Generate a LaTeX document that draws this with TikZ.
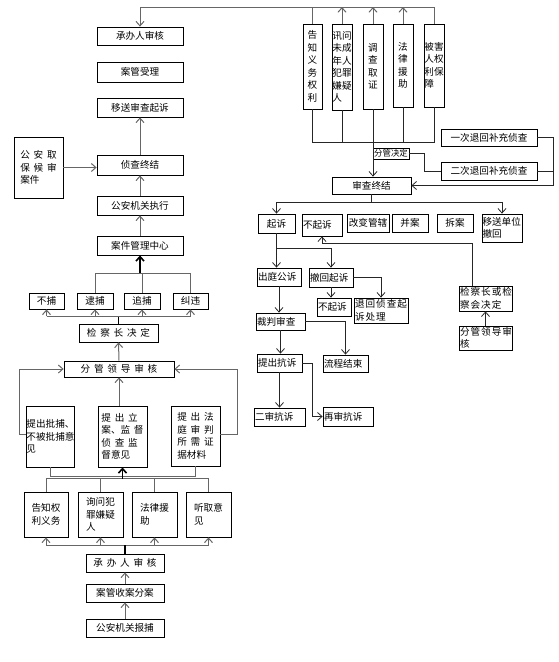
\documentclass[tikz,border=0pt]{standalone}
\usepackage{fontspec}
\setmainfont{Noto Sans CJK SC}
\usetikzlibrary{arrows.meta}
\newcommand{\ks}{\kern3.8pt}
\newcommand{\kt}{\kern1pt}
\tikzset{
  box/.style={draw, line width=0.8pt, inner sep=1pt, align=center, font=\fontsize{9.6}{12.5}\selectfont},
  lbox/.style={box, align=left},
  link/.style={draw=black!60, line width=1pt},
  dlink/.style={draw=black!85, line width=0.8pt},
  trunk/.style={draw=black, line width=1.6pt},
}
\begin{document}
\begin{tikzpicture}[x=1pt, y=-1pt, >={Straight Barb[length=4.5pt,width=8pt]}]
\useasboundingbox (0,0) rectangle (558,662);

\node [box, minimum width=86pt, minimum height=18pt] (cbsh) at (140,36) {承办人审核};
\node [box, minimum width=86pt, minimum height=20pt] (agsl) at (140,72) {案管受理};
\node [box, minimum width=86pt, minimum height=19pt] (ysqs) at (140,107.5) {移送审查起诉};
\node [lbox, minimum width=49pt, minimum height=61pt] (qbhs) at (38.5,167.5) {公\ks 安\ks 取\\保\ks 候\ks 审\\案件};
\node [box, minimum width=86pt, minimum height=20pt] (zczj) at (140,165) {侦查终结};
\node [box, minimum width=86pt, minimum height=19pt] (gazx) at (140,205.5) {公安机关执行};
\node [box, minimum width=86pt, minimum height=19pt] (ajgl) at (140,245.5) {案件管理中心};
\node [box, minimum width=35pt, minimum height=16pt] (bb) at (46.5,301) {不捕};
\node [box, minimum width=36pt, minimum height=16pt] (db) at (95,301) {逮捕};
\node [box, minimum width=36pt, minimum height=16pt] (zb) at (142,301) {追捕};
\node [box, minimum width=35pt, minimum height=16pt] (jw) at (190.5,301) {纠违};
\node [box, minimum width=79pt, minimum height=18pt] (jczjd) at (118.5,333) {检\ks 察\ks 长\ks 决\ks 定};
\node [box, minimum width=110pt, minimum height=16pt] (fgsh) at (119,369) {分\ks 管\ks 领\ks 导\ks 审\ks 核};
\node [lbox, text width=47pt, inner sep=0.5pt, minimum height=61pt] (tcpb) at (50,436.5) {提出批捕、\\不被批捕意\\见};
\node [lbox, minimum width=49pt, minimum height=61pt] (tcla) at (122.5,436.5) {提\ks 出\ks 立\\案、监\ks 督\\侦\ks 查\ks 监\\督意见};
\node [lbox, minimum width=49pt, minimum height=60pt] (tcft) at (195.5,436) {提\ks 出\ks 法\\庭\ks 审\ks 判\\所\ks 需\ks 证\\据材料};
\node [box, minimum width=44pt, minimum height=45pt] (gzqy) at (46,514.5) {告知权\\利义务};
\node [lbox, minimum width=45pt, minimum height=45pt] (xwfz) at (100.5,514.5) {询问犯\\罪嫌疑\\人};
\node [lbox, minimum width=45pt, minimum height=45pt] (flyz) at (154.5,514.5) {法律援\\助};
\node [lbox, minimum width=45pt, minimum height=45pt] (tqyj) at (208.5,514.5) {听取意\\见};
\node [box, minimum width=78pt, minimum height=18pt] (cbsh2) at (125,563) {承\ks 办\ks 人\ks 审\ks 核};
\node [box, minimum width=78pt, minimum height=18pt] (agsa) at (125,593) {案管收案分案};
\node [box, minimum width=78pt, minimum height=18pt] (gabb) at (125,628) {公安机关报捕};

\node [box, minimum width=19pt, minimum height=85pt, inner sep=0pt] (gzyw) at (312.5,66.5) {告\\知\\义\\务\\权\\利};
\node [lbox, minimum width=20pt, minimum height=86pt, inner sep=0pt] (xwwc) at (342,67) {讯问\\未成\\年人\\犯罪\\嫌疑\\人};
\node [box, minimum width=20pt, minimum height=85pt, inner sep=0pt] (dcqz) at (373,66.5) {调\\查\\取\\证};
\node [box, minimum width=20pt, minimum height=83pt, inner sep=0pt] (flyz2) at (403,65.5) {法\\律\\援\\助};
\node [lbox, minimum width=20pt, minimum height=83pt, inner sep=0pt] (bhrq) at (434,65.5) {被害\\人权\\利保\\障};
\node [box, minimum width=36pt, minimum height=11pt, inner sep=0pt, font=\fontsize{8.4}{10}\selectfont] (fgjd) at (391,153.5) {分管决定};
\node [box, minimum width=96pt, minimum height=17pt] (ycth) at (489,137.5) {一次退回补充侦查};
\node [box, minimum width=96pt, minimum height=18pt] (ecth) at (489,171) {二次退回补充侦查};
\node [box, minimum width=79pt, minimum height=17pt] (sczj) at (371.5,185.5) {审查终结};

\node [box, minimum width=37pt, minimum height=19pt] (qs) at (276.5,223.5) {起诉};
\node [lbox, text width=38pt, minimum height=22pt] (bqs) at (322,225) {不起诉};
\node [box, minimum width=42pt, minimum height=18pt, inner sep=0pt] (gbgx) at (368,223) {改变管辖};
\node [box, minimum width=36pt, minimum height=18pt] (ba) at (410,223) {并案};
\node [box, minimum width=36pt, minimum height=18pt] (ca) at (455,223) {拆案};
\node [lbox, text width=39pt, inner sep=0.5pt, minimum height=28pt] (ysdw) at (502,228) {移送单位\\撤回};
\node [lbox, text width=42pt, minimum height=18pt] (cts) at (279,277) {出庭公诉};
\node [lbox, text width=42pt, minimum height=19pt] (chqs) at (331,277.5) {撤回起诉};
\node [lbox, text width=32pt, minimum height=18pt] (bqs2) at (334,307) {不起诉};
\node [lbox, text width=52pt, minimum height=25pt] (thzc) at (381,310.5) {退\kt 回\kt 侦\kt 查\kt 起\\诉\kt 处\kt 理};
\node [lbox, text width=47pt, minimum height=17pt] (cpsc) at (280.5,321.5) {裁判审查};
\node [lbox, text width=43pt, minimum height=17pt] (lcjs) at (345.5,363.5) {流程结束};
\node [lbox, text width=43pt, minimum height=18pt] (tckq) at (279.5,363) {提出抗诉};
\node [lbox, text width=49pt, minimum height=18pt] (eskq) at (279.5,417) {二审抗诉};
\node [lbox, text width=48pt, minimum height=19pt] (zskq) at (348,416.5) {再审抗诉};
\node [lbox, text width=51pt, minimum height=25pt] (jczh) at (485.5,298.5) {检\kt 察\kt 长\kt 或\kt 检\\察\kt 会\kt 决\kt 定};
\node [lbox, text width=51pt, minimum height=24pt] (fgsh2) at (485.5,338) {分\kt 管\kt 领\kt 导\kt 审\\核};

\draw [link, ->] (bhrq.north) -- (bhrq.north |- 0,7) -| (cbsh.north);
\draw [link] (gzyw.north) -- (gzyw.north |- 0,7);
\draw [link, ->] (xwwc.north) -- (xwwc.north |- 0,7);
\draw [link, ->] (dcqz.north) -- (dcqz.north |- 0,7);
\draw [link, ->] (flyz2.north) -- (flyz2.north |- 0,7);
\draw [dlink] (gzyw.south) |- (bhrq.south |- 0,142) -- (bhrq.south);
\draw [dlink] (xwwc.south) -- (xwwc.south |- 0,142);
\draw [dlink] (flyz2.south) -- (flyz2.south |- 0,142);
\draw [dlink, ->] (dcqz.south) -- (dcqz.south |- sczj.north);
\draw [dlink] (fgjd.east) -- ++(15,0) |- (ecth.west);
\draw [dlink, ->] (ycth.east) -- ++(16,0) |- (sczj.east);
\draw [dlink] (ecth.east) -- ++(16,0);

\draw [dlink] (sczj.south) -- ++(0,8) coordinate (split);
\draw [dlink, ->] (split) -| (qs.north);
\draw [dlink, ->] (split) -| (ysdw.north);
\draw [dlink, ->] ([xshift=-13.5pt]jczh.north) |- ([yshift=-7pt]bqs.south) -- (bqs.south);
\draw [dlink, ->] (fgsh2.north) -- (jczh.south);
\draw [dlink, ->] (qs.south) -- (qs.south |- cts.north);
\draw [dlink, ->] (qs.south |- 0,248) -| (chqs.north);
\draw [dlink, ->] (chqs.south) -- (chqs.south |- bqs2.north);
\draw [dlink, ->] (chqs.east) -| (thzc.north);
\draw [dlink, ->] (cts.south) -- (cts.south |- cpsc.north);
\draw [dlink, ->] (cpsc.east) -| (lcjs.north);
\draw [dlink, ->] (cpsc.south) -- (cpsc.south |- tckq.north);
\draw [dlink, ->] (tckq.south) -- (tckq.south |- eskq.north);
\draw [dlink, ->] (tckq.east) -- ++(10,0) |- (zskq.west);

\draw [link, ->] (zczj.north) -- (ysqs.south);
\draw [link, ->] (gazx.north) -- (zczj.south);
\draw [link, ->] (ajgl.north) -- (gazx.south);
\draw [link, ->] (qbhs.east) -- (qbhs.east -| zczj.west);
\draw [link] (db.north) |- (jw.north |- 0,273) -- (jw.north);
\draw [link] (zb.north) -- (zb.north |- 0,273);
\draw [trunk, ->] (ajgl.south |- 0,273) -- (ajgl.south);
\draw [trunk] (jczjd.north) -- (jczjd.north |- 0,316);
\draw [link] (bb.south |- 0,316) -- (jw.south |- 0,316);
\draw [link, ->] (bb.south |- 0,316) -- (bb.south);
\draw [link, ->] (db.south |- 0,316) -- (db.south);
\draw [link, ->] (zb.south |- 0,316) -- (zb.south);
\draw [link, ->] (jw.south |- 0,316) -- (jw.south);
\draw [link, ->] (fgsh.north) -- (jczjd.south);
\draw [link, ->] (tcla.north -| fgsh.south) -- (fgsh.south);
\draw [link, ->] (tcpb.west |- 0,434) -- ++(-6,0) |- (fgsh.west);
\draw [link, ->] (tcft.east |- 0,434) -- ++(17,0) |- (fgsh.east);
\draw [link] (tcpb.south) -- ++(0,9) -| (tcft.south);
\draw [link] (gzqy.north) -- ++(0,-13) -| (tqyj.north);
\draw [link] (xwfz.north) -- ++(0,-13);
\draw [link] (flyz.north) -- ++(0,-13);
\draw [trunk, ->] (tcla.south |- 0,479) -- (tcla.south);
\draw [link] (gzqy.south |- 0,545) -- (tqyj.south |- 0,545);
\draw [link, ->] (gzqy.south |- 0,545) -- (gzqy.south);
\draw [link, ->] (xwfz.south |- 0,545) -- (xwfz.south);
\draw [link, ->] (flyz.south |- 0,545) -- (flyz.south);
\draw [link, ->] (tqyj.south |- 0,545) -- (tqyj.south);
\draw [trunk] (cbsh2.north) -- (cbsh2.north |- 0,545);
\draw [link, ->] (agsa.north) -- (cbsh2.south);
\draw [link, ->] (gabb.north) -- (agsa.south);
\end{tikzpicture}
\end{document}
